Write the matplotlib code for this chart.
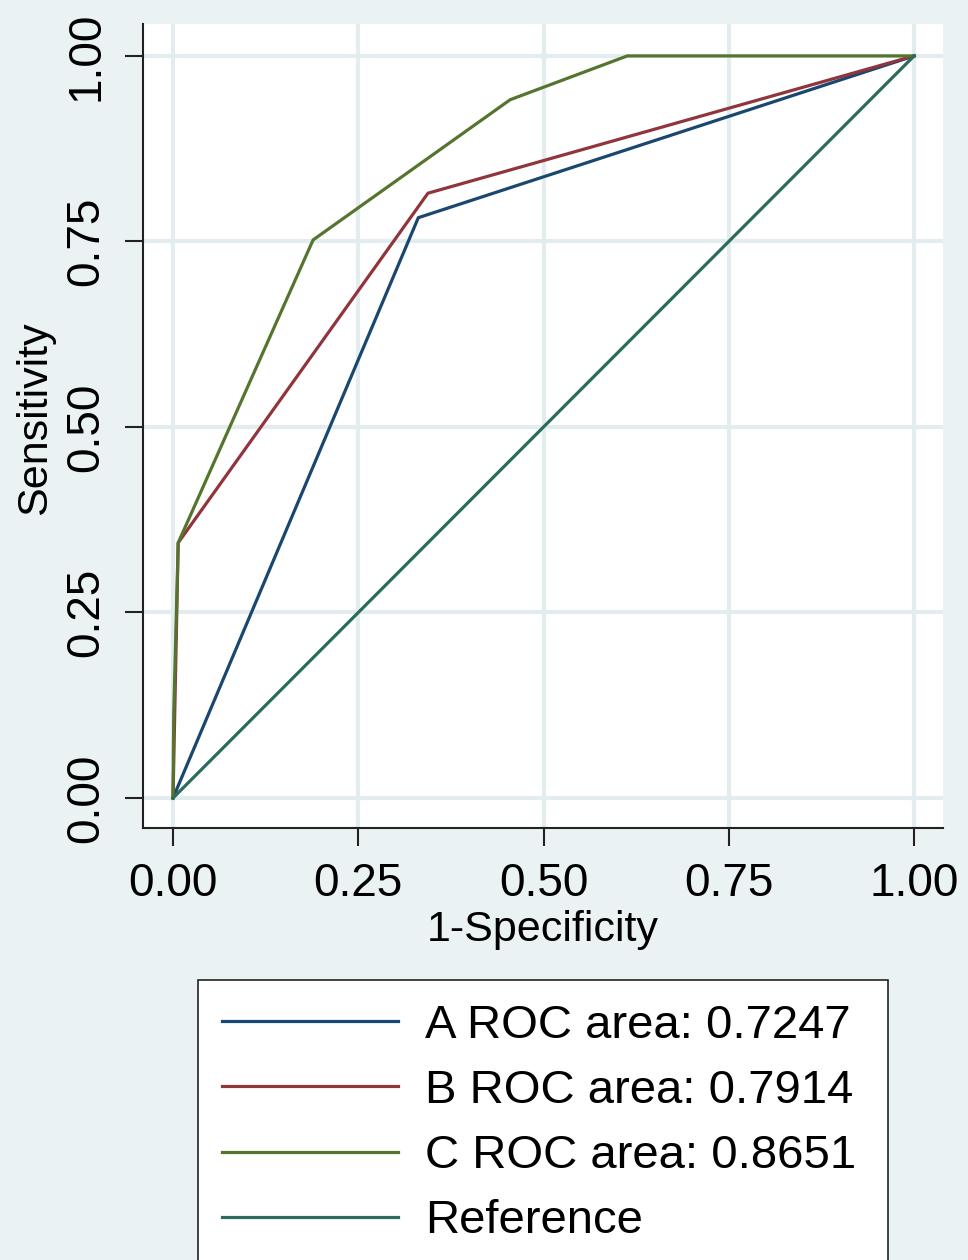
import matplotlib.pyplot as plt
from matplotlib.ticker import FormatStrFormatter

plt.rcParams['font.family'] = ['Liberation Sans', 'DejaVu Sans']

# ------------- Data ------------- #
a_x = [0.0, 0.331, 1.0]
a_y = [0.0, 0.782, 1.0]

b_x = [0.0, 0.007, 0.344, 1.0]
b_y = [0.0, 0.344, 0.815, 1.0]

c_x = [0.0, 0.001, 0.004, 0.007, 0.189, 0.455, 0.613, 1.0]
c_y = [0.0, 0.115, 0.229, 0.344, 0.752, 0.941, 1.0, 1.0]

ref_x = [0.0, 1.0]
ref_y = [0.0, 1.0]

labels = ['A ROC area: 0.7247', 'B ROC area: 0.7914', 'C ROC area: 0.8651', 'Reference']
ticks = [0.0, 0.25, 0.5, 0.75, 1.0]

# ------------- Plot Setup ------------- #
bg = '#eaf2f3'
grid_col = '#e3edf0'
fig = plt.figure(figsize=(9.68, 12.6), dpi=100, facecolor=bg)
ax = fig.add_axes([143 / 968, 1 - 828 / 1260, 800 / 968, 804 / 1260])
ax.set_facecolor('white')

ax.set_xlim(-0.0405, 1.039)
ax.set_ylim(-0.0404, 1.043)
ax.set_xticks(ticks)
ax.set_yticks(ticks)
ax.xaxis.set_major_formatter(FormatStrFormatter('%.2f'))
ax.yaxis.set_major_formatter(FormatStrFormatter('%.2f'))
ax.grid(True, color=grid_col, linewidth=3)
ax.set_axisbelow(True)

for s in ['top', 'right']:
    ax.spines[s].set_visible(False)
for s in ['left', 'bottom']:
    ax.spines[s].set_linewidth(1.5)
    ax.spines[s].set_color('#222222')

ax.tick_params(axis='both', length=13, width=1.5, color='#222222', labelsize=33)
ax.tick_params(axis='x', pad=11.5)
ax.tick_params(axis='y', pad=12)
for lab in ax.get_yticklabels():
    lab.set_rotation(90)
    lab.set_va('center')

ax.set_xlabel('1-Specificity', fontsize=31)
ax.set_ylabel('Sensitivity', fontsize=31)
ax.xaxis.set_label_coords(0.5, -0.102)
ax.yaxis.set_label_coords(-0.110, 0.51)

# ------------- Curves ------------- #
lw = 2.3
ax.plot(a_x, a_y, color='#1a476f', linewidth=lw, label=labels[0])
ax.plot(b_x, b_y, color='#90353b', linewidth=lw, label=labels[1])
ax.plot(c_x, c_y, color='#55752f', linewidth=lw, label=labels[2])
ax.plot(ref_x, ref_y, color='#2a6b5c', linewidth=lw, label=labels[3])

# ------------- Legend ------------- #
leg = fig.legend(loc='upper left', bbox_to_anchor=(198 / 968, 1 - 980 / 1260, 690 / 968, 0.0),
                 mode='expand', fontsize=34, frameon=True, fancybox=False,
                 handlelength=3.73, handletextpad=0.57, labelspacing=0.45,
                 borderpad=0.5, borderaxespad=0.0)
leg.get_frame().set_edgecolor('#222222')
leg.get_frame().set_linewidth(1.2)
leg.get_frame().set_facecolor('white')
leg.get_frame().set_alpha(1.0)
for line in leg.get_lines():
    line.set_linewidth(2.3)

plt.savefig('out.png', dpi=100, facecolor=bg)
